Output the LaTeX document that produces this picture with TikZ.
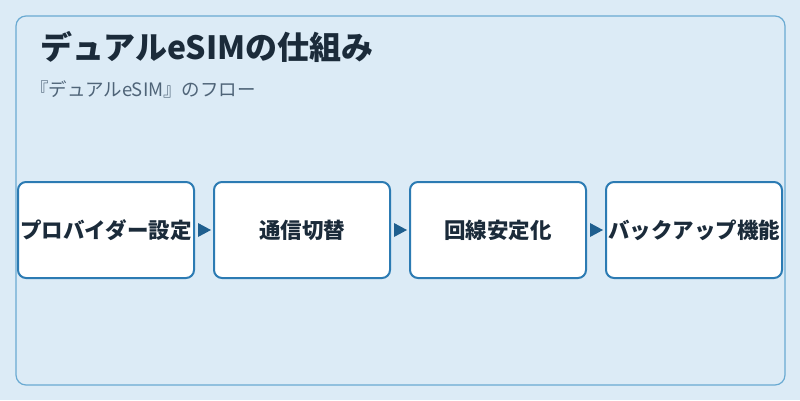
\documentclass[tikz,border=0pt]{standalone}
\usepackage{fontspec}
\setmainfont{Noto Sans CJK JP}
\definecolor{bg}{HTML}{DCEBF6}
\definecolor{frame}{HTML}{6AAAD2}
\definecolor{boxb}{HTML}{2C7BB3}
\definecolor{arr}{HTML}{1F5F8F}
\definecolor{ttl}{HTML}{1B2B3A}
\definecolor{sub}{HTML}{4F6478}
\tikzset{stepbox/.style={draw=boxb,line width=2pt,fill=white,rounded corners=8pt,minimum width=176pt,minimum height=96pt,font=\fontsize{21.5}{24}\selectfont\bfseries,text=ttl,inner sep=0pt},
arrowtri/.style={fill=arr,draw=none}}
\begin{document}
\begin{tikzpicture}[x=1pt,y=-1pt]
\useasboundingbox (0,0) rectangle (800,400);
\fill[bg] (0,0) rectangle (800,400);
\node[draw=frame,line width=1.2pt,rounded corners=10pt,minimum width=769pt,minimum height=369pt] (frame) at (400.5,200.5) {};
\node[anchor=west,font=\fontsize{32}{36}\selectfont\bfseries,text=ttl,inner sep=0pt] (title) at (40,47) {デュアルeSIMの仕組み};
\node[anchor=west,font=\fontsize{18.5}{22}\selectfont,text=sub,inner sep=0pt] (subtitle) at (30,89) {『デュアルeSIM』のフロー};
\node[stepbox] (s1) at (106,230) {プロバイダー設定};
\node[stepbox] (s2) at (302,230) {通信切替};
\node[stepbox] (s3) at (498,230) {回線安定化};
\node[stepbox] (s4) at (694,230) {バックアップ機能};
\foreach \a/\b in {s1/s2,s2/s3,s3/s4}{
 \path (\a.east) -- (\b.west) coordinate[pos=0.5] (m);
 \fill[arrowtri] ([xshift=-6pt,yshift=-7pt]m) -- ([xshift=7pt]m) -- ([xshift=-6pt,yshift=7pt]m) -- cycle;
}
\end{tikzpicture}
\end{document}
